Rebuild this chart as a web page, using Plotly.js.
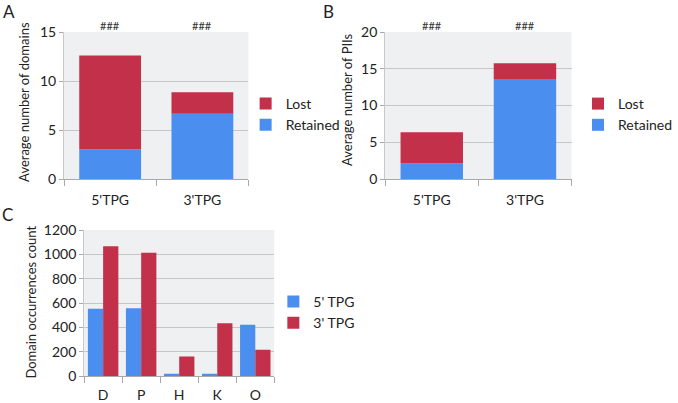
<!DOCTYPE html>
<html><head><meta charset="utf-8">
<script src="https://cdn.plot.ly/plotly-3.0.1.min.js"></script>
<style>html,body{margin:0;padding:0;background:#fff;}#chart{width:678px;height:403px;}</style>
</head><body><div id="chart"></div>
<script>
// Panel A: average number of domains
const catsAB = ["5'TPG", "3'TPG"];
const domainsRetained = [3.0, 6.65];
const domainsLost = [9.6, 2.2];
// Panel B: average number of PIIs
const piisRetained = [2.1, 13.6];
const piisLost = [4.25, 2.15];
// Panel C: domain occurrences
const catsC = ["D", "P", "H", "K", "O"];
const tpg5 = [554, 558, 20, 20, 423];
const tpg3 = [1066, 1014, 162, 435, 218];

const BLUE = "#4a8ff0", RED = "#c2304a";
const FONT = "Lato, 'Open Sans', sans-serif";
const W = 678, H = 403;
const px = v => v / W, py = v => 1 - v / H;

const traces = [
  {type:'bar', x:catsAB, y:domainsRetained, name:'Retained', marker:{color:BLUE}, xaxis:'x', yaxis:'y', legend:'legend', width:0.67, offset:-0.335},
  {type:'bar', x:catsAB, y:domainsLost, base:domainsRetained, name:'Lost', marker:{color:RED}, xaxis:'x', yaxis:'y', legend:'legend', width:0.67, offset:-0.335},
  {type:'bar', x:catsAB, y:piisRetained, name:'Retained', marker:{color:BLUE}, xaxis:'x2', yaxis:'y2', legend:'legend2', width:0.67, offset:-0.335},
  {type:'bar', x:catsAB, y:piisLost, base:piisRetained, name:'Lost', marker:{color:RED}, xaxis:'x2', yaxis:'y2', legend:'legend2', width:0.67, offset:-0.335},
  {type:'bar', x:catsC, y:tpg5, name:"5' TPG", marker:{color:BLUE}, xaxis:'x3', yaxis:'y3', legend:'legend3', width:0.4, offset:-0.4},
  {type:'bar', x:catsC, y:tpg3, name:"3' TPG", marker:{color:RED}, xaxis:'x3', yaxis:'y3', legend:'legend3', width:0.4, offset:0}
];
traces.forEach(t => { t.marker.line = {width:0}; t.hoverinfo = 'skip'; });

const xax = (dom, anchor, standoff) => ({
  domain: dom, anchor: anchor, type:'category', showgrid:false, showline:true, linecolor:'#a9a9a9', linewidth:1,
  ticks:'outside', tickson:'boundaries', ticklen:6, tickcolor:'#a9a9a9', ticklabelstandoff: standoff,
  tickfont:{family:FONT, size:14, color:'#222'}, zeroline:false, fixedrange:true
});
const yax = (dom, anchor, range, dtick) => ({
  domain: dom, anchor: anchor, range: range, dtick: dtick, showgrid:true, gridcolor:'#c4c6c8', gridwidth:1,
  showline:true, linecolor:'#c8c8c8', ticks:'outside', ticklen:4, tickcolor:'#a9a9a9',
  tickfont:{family:FONT, size:14, color:'#222'}, zeroline:false, fixedrange:true
});

const legendBase = {bgcolor:'rgba(0,0,0,0)', borderwidth:0, font:{family:FONT, size:14, color:'#222'},
  xanchor:'left', yanchor:'top', orientation:'v'};

const ann = (text, x, y, size, angle) => ({text:text, xref:'paper', yref:'paper', x:x, y:y,
  xanchor:'center', yanchor:'middle', textangle:angle || 0, showarrow:false, font:{family:FONT, size:size, color:'#222'}});

const layout = {
  width: W, height: H, margin:{l:0, r:0, t:0, b:0},
  paper_bgcolor:'#fff', plot_bgcolor:'#eef0f1',
  barmode:'overlay', font:{family:FONT, color:'#222'},
  xaxis: xax([px(67), px(260)], 'y', 8),
  yaxis: yax([py(179), py(32)], 'x', [0, 15], 5),
  xaxis2: xax([px(403), px(598)], 'y2', 8),
  yaxis2: yax([py(179), py(32)], 'x2', [0, 20], 5),
  xaxis3: xax([px(88), px(287)], 'y3', 6),
  yaxis3: yax([py(376.3), py(230)], 'x3', [0, 1200], 200),
  legend: Object.assign({}, legendBase, {x:px(257), y:py(88), traceorder:'reversed'}),
  legend2: Object.assign({}, legendBase, {x:px(605), y:py(88), traceorder:'reversed'}),
  legend3: Object.assign({}, legendBase, {x:px(286), y:py(286), traceorder:'normal'}),
  annotations: [
    ann('A', px(9), py(11), 17),
    ann('B', px(344), py(11), 17),
    ann('C', px(8), py(214), 17),
    ann('Average number of domains', px(25), py(102), 13, -90),
    ann('Average number of PIIs', px(363), py(100), 13, -90),
    ann('Domain occurrences count', px(32), py(302), 13, -90)
  ]
};
catsAB.forEach(c => {
  layout.annotations.push({text:'###', xref:'x', yref:'paper', x:c, y:py(25), yanchor:'middle', showarrow:false, font:{family:FONT, size:11, color:'#333'}});
  layout.annotations.push({text:'###', xref:'x2', yref:'paper', x:c, y:py(25), yanchor:'middle', showarrow:false, font:{family:FONT, size:11, color:'#333'}});
});

Plotly.newPlot('chart', traces, layout, {staticPlot:true, displayModeBar:false});
</script>
</body></html>
